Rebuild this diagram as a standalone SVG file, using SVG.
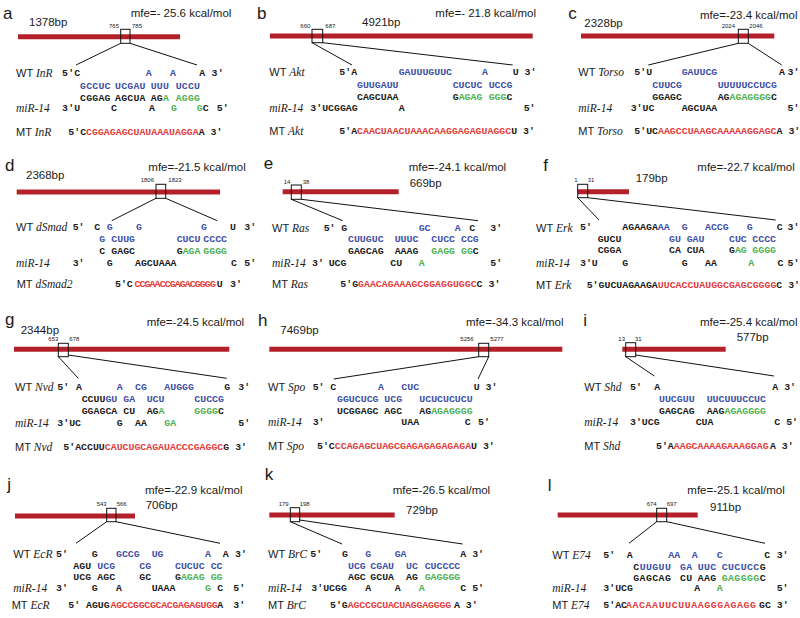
<svg xmlns="http://www.w3.org/2000/svg" width="800" height="618" viewBox="0 0 800 618">
<style>
.s{font-family:"Liberation Mono","Courier New",monospace;font-weight:bold;font-size:9.9px;fill:#1a1a1a}
.b{fill:#3d4fa6}.g{fill:#4cb050}.r{fill:#e23b3b}
.lab{font-family:"Liberation Sans",Arial,sans-serif;font-size:11px;fill:#1a1a1a}
.it{font-family:"Liberation Serif","Times New Roman",serif;font-style:italic;font-size:11.5px}
.mfe{font-family:"Liberation Sans",Arial,sans-serif;font-size:11.5px;fill:#1a1a1a}
.pos{font-family:"Liberation Sans",Arial,sans-serif;font-size:6px;fill:#1a1a1a}
.let{font-family:"Liberation Sans",Arial,sans-serif;font-size:17px;fill:#1a1a1a}
.bar{stroke:#b3202a;stroke-width:5}
.box{fill:none;stroke:#111;stroke-width:1}
.ln{stroke:#111;stroke-width:1}
</style>
<rect width="800" height="618" fill="#fff"/>
<g id="connectors">
<line class="ln" x1="120.7" y1="43.3" x2="76" y2="65"/><line class="ln" x1="130" y1="43.3" x2="197" y2="65"/>
<line class="ln" x1="312" y1="42.7" x2="352" y2="65"/><line class="ln" x1="322.7" y1="42.7" x2="512.7" y2="65"/>
<line class="ln" x1="738.3" y1="43.3" x2="648.3" y2="65"/><line class="ln" x1="748.3" y1="43.3" x2="781.7" y2="65"/>
<line class="ln" x1="156" y1="198.3" x2="111.7" y2="220.7"/><line class="ln" x1="165.7" y1="198.3" x2="217.3" y2="220.7"/>
<line class="ln" x1="291.3" y1="199.3" x2="342.7" y2="220.7"/><line class="ln" x1="301.3" y1="199.3" x2="478" y2="220.7"/>
<line class="ln" x1="577.7" y1="197.7" x2="599" y2="220"/><line class="ln" x1="587.7" y1="197.7" x2="775.7" y2="220"/>
<line class="ln" x1="58.3" y1="356.7" x2="78.3" y2="378.3"/><line class="ln" x1="68.3" y1="355" x2="226.7" y2="378.3"/>
<line class="ln" x1="478.7" y1="356.7" x2="333.7" y2="379"/><line class="ln" x1="488.7" y1="356.7" x2="478" y2="379"/>
<line class="ln" x1="625.7" y1="356.7" x2="654.3" y2="376"/><line class="ln" x1="635.7" y1="355" x2="774" y2="376"/>
<line class="ln" x1="106.7" y1="521.7" x2="76" y2="543.3"/><line class="ln" x1="116" y1="521.7" x2="220" y2="543.3"/>
<line class="ln" x1="290.3" y1="521.7" x2="342" y2="544"/><line class="ln" x1="299.7" y1="520" x2="462.7" y2="544"/>
<line class="ln" x1="656.7" y1="521.7" x2="629" y2="543.3"/><line class="ln" x1="666.7" y1="521.7" x2="765" y2="543.3"/>
</g>

<g id="panel-a">
<text class="let" x="3" y="18.5">a</text>
<text class="mfe" x="29" y="25.7">1378bp</text>
<text class="mfe" x="130.7" y="17.3">mfe=- 25.6 kcal/mol</text>
<line class="bar" x1="18" y1="36.7" x2="180" y2="36.7"/>
<rect class="box" x="120.7" y="29.3" width="9.3" height="14"/>
<text class="pos" x="109" y="28">765</text><text class="pos" x="132" y="28">785</text>
<text class="lab" x="16" y="77.3">WT <tspan class="it">InR</tspan></text>
<text class="lab" x="16" y="112.3"><tspan class="it">miR-14</tspan></text>
<text class="lab" x="16" y="135.7">MT <tspan class="it">InR</tspan></text>
<text class="s" y="76.3" letter-spacing="0.2"><tspan x="62">5'C</tspan><tspan x="145.7" class="b">A</tspan><tspan x="170" class="b">A</tspan><tspan x="199.3">A 3'</tspan></text>
<text class="s b" y="89" letter-spacing="0.2"><tspan x="80">GCCUC</tspan><tspan x="115">UCGAU</tspan><tspan x="150.7">UUU</tspan><tspan x="175.7">UCCU</tspan></text>
<text class="s" y="101.3" letter-spacing="0.2"><tspan x="80">CGGAG</tspan><tspan x="115">AGCUA</tspan><tspan x="150.7">AG</tspan><tspan class="g">A</tspan><tspan x="175.7" class="g">AGGG</tspan></text>
<text class="s" y="111.3" letter-spacing="0.2"><tspan x="62">3'U</tspan><tspan x="111">C</tspan><tspan x="149">A</tspan><tspan x="171" class="g">G</tspan><tspan x="196.7" class="g">G</tspan><tspan>C</tspan><tspan x="216.7">5'</tspan></text>
<text class="s" y="134.7"><tspan x="68.3">5'C</tspan><tspan class="r">CGGAGAGCUAUAAAUAGGA</tspan><tspan>A 3'</tspan></text>
</g>

<g id="panel-b">
<text class="let" x="257" y="18.5">b</text>
<text class="mfe" x="362" y="25.7">4921bp</text>
<text class="mfe" x="435.3" y="17.3">mfe=- 21.8 kcal/mol</text>
<line class="bar" x1="270" y1="36" x2="532.7" y2="36"/>
<rect class="box" x="312" y="29.3" width="10.7" height="13.4"/>
<text class="pos" x="300.3" y="28">660</text><text class="pos" x="325.3" y="28">687</text>
<text class="lab" x="269.3" y="76.3">WT <tspan class="it">Akt</tspan></text>
<text class="lab" x="269.3" y="112.3"><tspan class="it">miR-14</tspan></text>
<text class="lab" x="269.3" y="134.7">MT <tspan class="it">Akt</tspan></text>
<text class="s" y="75.3"><tspan x="339.3">5'A</tspan><tspan x="398.7" class="b">GAUUUGUUC</tspan><tspan x="482" class="b">A</tspan><tspan x="512.7">U 3'</tspan></text>
<text class="s b" y="88"><tspan x="357">GUUGAUU</tspan><tspan x="452.7">CUCUC</tspan><tspan x="488.7">UCCG</tspan></text>
<text class="s" y="100.3"><tspan x="357">CAGCUAA</tspan><tspan x="452.7">G</tspan><tspan class="g">AGAG</tspan><tspan x="488.7" class="g">GGG</tspan><tspan>C</tspan></text>
<text class="s" y="111.3"><tspan x="310.3">3'UCGGAG</tspan><tspan x="398.7">A</tspan><tspan x="523.7">5'</tspan></text>
<text class="s" y="133.7"><tspan x="339.3">5'A</tspan><tspan class="r">CAACUAACUAAACAAGGAGAGUAGGC</tspan><tspan>U 3'</tspan></text>
</g>

<g id="panel-c">
<text class="let" x="568.3" y="18.5">c</text>
<text class="mfe" x="584.3" y="26.7">2328bp</text>
<text class="mfe" x="700" y="19">mfe=-23.4 kcal/mol</text>
<line class="bar" x1="581" y1="36" x2="774.3" y2="36"/>
<rect class="box" x="738.3" y="29.3" width="10" height="14"/>
<text class="pos" x="721.7" y="28">2024</text><text class="pos" x="749.3" y="28">2046</text>
<text class="lab" x="578.3" y="76.3">WT <tspan class="it">Torso</tspan></text>
<text class="lab" x="578.3" y="112.3"><tspan class="it">miR-14</tspan></text>
<text class="lab" x="578.3" y="134.7">MT <tspan class="it">Torso</tspan></text>
<text class="s" y="75.3"><tspan x="634.3">5'U</tspan><tspan x="681.7" class="b">GAUUCG</tspan><tspan x="779">A</tspan><tspan x="787.5">3'</tspan></text>
<text class="s b" y="88"><tspan x="652.3">CUUCG</tspan><tspan x="717.7">UUUUUCCUCG</tspan></text>
<text class="s" y="100.3"><tspan x="652.3">GGAGC</tspan><tspan x="717.7">AG</tspan><tspan class="g">AGAGGGG</tspan><tspan>C</tspan></text>
<text class="s" y="111.3"><tspan x="630.7">3'UC</tspan><tspan x="681.7">AGCUAA</tspan><tspan x="787.5">5'</tspan></text>
<text class="s" y="133.7"><tspan x="634.3">5'UC</tspan><tspan class="r">AAGCCUAAGCAAAAAGGAGC</tspan><tspan>A 3'</tspan></text>
</g>

<g id="panel-d">
<text class="let" x="5" y="170.5">d</text>
<text class="mfe" x="26" y="179">2368bp</text>
<text class="mfe" x="148.3" y="170.7">mfe=-21.5 kcal/mol</text>
<line class="bar" x1="16.7" y1="192" x2="220" y2="192"/>
<rect class="box" x="156" y="184.3" width="9.7" height="14"/>
<text class="pos" x="140.7" y="181.5">1806</text><text class="pos" x="168.3" y="181.5">1823</text>
<text class="lab" x="16" y="231.3">WT <tspan class="it">dSmad</tspan></text>
<text class="lab" x="16" y="266.7"><tspan class="it">miR-14</tspan></text>
<text class="lab" x="16.7" y="288">MT <tspan class="it">dSmad2</tspan></text>
<text class="s" y="230.3"><tspan x="72.7">5'</tspan><tspan x="94.3">C</tspan><tspan x="106.7" class="b">G</tspan><tspan x="136" class="b">G</tspan><tspan x="201" class="b">G</tspan><tspan x="230">U</tspan><tspan x="244.3">3'</tspan></text>
<text class="s b" y="242.3"><tspan x="99.3">G</tspan><tspan x="111.3">CUUG</tspan><tspan x="176.7">CUCU</tspan><tspan x="203.3">CCCC</tspan></text>
<text class="s" y="253.7"><tspan x="99.3">C</tspan><tspan x="111.3">GAGC</tspan><tspan x="176.7">G</tspan><tspan class="g">AGA</tspan><tspan x="203.3" class="g">GGGG</tspan></text>
<text class="s" y="265.7"><tspan x="72.7">3'</tspan><tspan x="106.7">G</tspan><tspan x="135">AGCUAAA</tspan><tspan x="231">C</tspan><tspan x="244.3">5'</tspan></text>
<text class="s" y="287"><tspan x="115">5'C</tspan><tspan x="134.5" class="r" letter-spacing="-0.9">CCGAACCGAGACGGGG</tspan><tspan x="216.7">U</tspan><tspan x="230">3'</tspan></text>
</g>

<g id="panel-e">
<text class="let" x="263.7" y="169">e</text>
<text class="mfe" x="408.7" y="170.7">mfe=-24.1 kcal/mol</text>
<text class="mfe" x="409.7" y="186.7">669bp</text>
<line class="bar" x1="282.7" y1="191.7" x2="398.7" y2="191.7"/>
<rect class="box" x="291.3" y="185" width="10" height="14.3"/>
<text class="pos" x="283.7" y="184">14</text><text class="pos" x="302.7" y="184">38</text>
<text class="lab" x="272" y="232.3">WT <tspan class="it">Ras</tspan></text>
<text class="lab" x="272" y="266.7"><tspan class="it">miR-14</tspan></text>
<text class="lab" x="272" y="288">MT <tspan class="it">Ras</tspan></text>
<text class="s" y="231.3"><tspan x="323.7">5'</tspan><tspan x="341.3">G</tspan><tspan x="418.7" class="b">GC</tspan><tspan x="454.7" class="b">A</tspan><tspan x="469.3">C</tspan><tspan x="490.3">3'</tspan></text>
<text class="s b" y="242.3"><tspan x="348">CUUGUC</tspan><tspan x="394.7">UUUC</tspan><tspan x="431.3">CUCC</tspan><tspan x="461">CCG</tspan></text>
<text class="s" y="253.7"><tspan x="348">GAGCAG</tspan><tspan x="394.7">AAAG</tspan><tspan x="431.3" class="g">GAGG</tspan><tspan x="461" class="g">GG</tspan><tspan>C</tspan></text>
<text class="s" y="265.7"><tspan x="312">3'</tspan><tspan x="328.7">UCG</tspan><tspan x="390.3">CU</tspan><tspan x="418.7" class="g">A</tspan><tspan x="490.3">5'</tspan></text>
<text class="s" y="287"><tspan x="340.3">5'G</tspan><tspan class="r">GAACAGAAAGCGGAGGUGGC</tspan><tspan>C 3'</tspan></text>
</g>

<g id="panel-f">
<text class="let" x="543.3" y="170.5">f</text>
<text class="mfe" x="697.3" y="170.7">mfe=-22.7 kcal/mol</text>
<text class="mfe" x="635.7" y="182.3">179bp</text>
<line class="bar" x1="577.7" y1="191.7" x2="629" y2="191.7"/>
<rect class="box" x="577.7" y="184.3" width="10" height="13.4"/>
<text class="pos" x="574.3" y="181.5">1</text><text class="pos" x="587.7" y="181.5">31</text>
<text class="lab" x="536" y="232.3">WT <tspan class="it">Erk</tspan></text>
<text class="lab" x="536" y="266.7"><tspan class="it">miR-14</tspan></text>
<text class="lab" x="536" y="289">MT <tspan class="it">Erk</tspan></text>
<text class="s" y="230.3"><tspan x="580">5'</tspan><tspan x="622.3">AGAAGA</tspan><tspan class="b">AA</tspan><tspan x="681.7" class="b">G</tspan><tspan x="705" class="b">ACCG</tspan><tspan x="746.7" class="b">G</tspan><tspan x="776.7">C</tspan><tspan x="787.5">3'</tspan></text>
<text class="s" y="242.3"><tspan x="597.7">GUCU</tspan><tspan x="669" class="b">GU</tspan><tspan x="686.7" class="b">GAU</tspan><tspan x="729" class="b">CUC</tspan><tspan x="752.3" class="b">CCCC</tspan></text>
<text class="s" y="253.3"><tspan x="597.7">CGGA</tspan><tspan x="669">CA</tspan><tspan x="686.7">CUA</tspan><tspan x="729">G</tspan><tspan class="g">AG</tspan><tspan x="752.3" class="g">GGGG</tspan></text>
<text class="s" y="265.7"><tspan x="580">3'U</tspan><tspan x="622.3">G</tspan><tspan x="681.7">G</tspan><tspan x="705">AA</tspan><tspan x="748.3" class="g">A</tspan><tspan x="777.5">C</tspan><tspan x="787.5">5'</tspan></text>
<text class="s" y="288"><tspan x="586.7">5'GUCUAGAAGA</tspan><tspan class="r">UUCACCUAUGGCGAGCGGGG</tspan><tspan>C 3'</tspan></text>
</g>

<g id="panel-g">
<text class="let" x="5" y="325">g</text>
<text class="mfe" x="20.7" y="334">2344bp</text>
<text class="mfe" x="146.7" y="325.7">mfe=-24.5 kcal/mol</text>
<line class="bar" x1="14" y1="349.3" x2="229.3" y2="349.3"/>
<rect class="box" x="58.3" y="343.3" width="10" height="13.4"/>
<text class="pos" x="48.3" y="340.5">653</text><text class="pos" x="69.3" y="340.5">678</text>
<text class="lab" x="15" y="390.7">WT <tspan class="it">Nvd</tspan></text>
<text class="lab" x="15" y="427.3"><tspan class="it">miR-14</tspan></text>
<text class="lab" x="15" y="450.7">MT <tspan class="it">Nvd</tspan></text>
<text class="s" y="389.7"><tspan x="57.3">5'</tspan><tspan x="76">A</tspan><tspan x="116.7" class="b">A</tspan><tspan x="135" class="b">CG</tspan><tspan x="164.3" class="b">AUGGG</tspan><tspan x="224.3">G</tspan><tspan x="238.3">3'</tspan></text>
<text class="s" y="402"><tspan x="81.7">CCUU</tspan><tspan class="b">GU</tspan><tspan x="123.3" class="b">GA</tspan><tspan x="146.7" class="b">UCU</tspan><tspan x="194.3" class="b">CUCCG</tspan></text>
<text class="s" y="414"><tspan x="81.7">GGAGCA</tspan><tspan x="123.3">CU</tspan><tspan x="146.7">AG</tspan><tspan class="g">A</tspan><tspan x="194.3" class="g">GGGG</tspan><tspan>C</tspan></text>
<text class="s" y="426.3"><tspan x="57.3">3'UC</tspan><tspan x="116.7">G</tspan><tspan x="135">AA</tspan><tspan x="164.3" class="g">GA</tspan><tspan x="238.3">5'</tspan></text>
<text class="s" y="449.7"><tspan x="63.3">5'ACCUU</tspan><tspan class="r">CAUCUGCAGAUACCCGAGGC</tspan><tspan>G 3'</tspan></text>
</g>

<g id="panel-h">
<text class="let" x="258" y="326">h</text>
<text class="mfe" x="280.3" y="334">7469bp</text>
<text class="mfe" x="466" y="325.7">mfe=-34.3 kcal/mol</text>
<line class="bar" x1="269.3" y1="349.3" x2="562.3" y2="349.3"/>
<rect class="box" x="478.7" y="343.3" width="10" height="13.4"/>
<text class="pos" x="460.3" y="340.5">5256</text><text class="pos" x="490.3" y="340.5">5277</text>
<text class="lab" x="268" y="390.7">WT <tspan class="it">Spo</tspan></text>
<text class="lab" x="268" y="426.3"><tspan class="it">miR-14</tspan></text>
<text class="lab" x="268" y="449.7">MT <tspan class="it">Spo</tspan></text>
<text class="s" y="389.7"><tspan x="312.7">5'</tspan><tspan x="330.3">C</tspan><tspan x="378" class="b">A</tspan><tspan x="401.3" class="b">CUC</tspan><tspan x="473.7">U 3'</tspan></text>
<text class="s b" y="402"><tspan x="337">GGUCUCG</tspan><tspan x="384.3">UCG</tspan><tspan x="419.3">UCUCUCUCU</tspan></text>
<text class="s" y="414"><tspan x="337">UCGGAGC</tspan><tspan x="384.3">AGC</tspan><tspan x="419.3">AG</tspan><tspan class="g">AGAGGGG</tspan></text>
<text class="s" y="425.3"><tspan x="312.7">3'</tspan><tspan x="401.3">UAA</tspan><tspan x="464.7">C</tspan><tspan x="478">5'</tspan></text>
<text class="s" y="448.7"><tspan x="317">5'C</tspan><tspan class="r">CCAGAGCUAGCGAGAGAGAGAGA</tspan><tspan>U 3'</tspan></text>
</g>

<g id="panel-i">
<text class="let" x="583.3" y="326">i</text>
<text class="mfe" x="700" y="325.7">mfe=-25.4 kcal/mol</text>
<text class="mfe" x="736.7" y="340.7">577bp</text>
<line class="bar" x1="622.3" y1="349.3" x2="725.7" y2="349.3"/>
<rect class="box" x="625.7" y="342.7" width="10" height="14"/>
<text class="pos" x="618.3" y="340.5">13</text><text class="pos" x="635" y="340.5">31</text>
<text class="lab" x="584.3" y="390.7">WT <tspan class="it">Shd</tspan></text>
<text class="lab" x="584.3" y="426.3"><tspan class="it">miR-14</tspan></text>
<text class="lab" x="584.3" y="449.7">MT <tspan class="it">Shd</tspan></text>
<text class="s" y="389.7"><tspan x="630">5'</tspan><tspan x="654.3">A</tspan><tspan x="772.3">A 3'</tspan></text>
<text class="s b" y="402"><tspan x="659">UUCGUU</tspan><tspan x="706.7">UUCUUUCCUC</tspan></text>
<text class="s" y="414"><tspan x="659">GAGCAG</tspan><tspan x="706.7">AAG</tspan><tspan class="g">AGAGGGG</tspan></text>
<text class="s" y="425.3"><tspan x="630">3'UCG</tspan><tspan x="695.7">CUA</tspan><tspan x="774.3">C 5'</tspan></text>
<text class="s" y="448.7"><tspan x="656">5'A</tspan><tspan class="r">AAGCAAAAGAAAGGAG</tspan><tspan x="770">A 3'</tspan></text>
</g>

<g id="panel-j">
<text class="let" x="7.3" y="490">j</text>
<text class="mfe" x="145" y="494">mfe=-22.9 kcal/mol</text>
<text class="mfe" x="145.7" y="509">706bp</text>
<line class="bar" x1="15" y1="516" x2="135" y2="516"/>
<rect class="box" x="106.7" y="508.3" width="9.3" height="13.4"/>
<text class="pos" x="96.7" y="505.5">543</text><text class="pos" x="116.7" y="505.5">566</text>
<text class="lab" x="13.3" y="558">WT <tspan class="it">EcR</tspan></text>
<text class="lab" x="13.3" y="592.3"><tspan class="it">miR-14</tspan></text>
<text class="lab" x="11.7" y="609">MT <tspan class="it">EcR</tspan></text>
<text class="s" y="557"><tspan x="56">5'</tspan><tspan x="91.7">G</tspan><tspan x="116" class="b">GCCG</tspan><tspan x="151.7" class="b">UG</tspan><tspan x="205" class="b">A</tspan><tspan x="222.7">A</tspan><tspan x="235">3'</tspan></text>
<text class="s" y="569"><tspan x="73.3">AGU</tspan><tspan x="97.3" class="b">UCG</tspan><tspan x="139.3" class="b">CG</tspan><tspan x="175" class="b">CUCUC</tspan><tspan x="210.7" class="b">CC</tspan></text>
<text class="s" y="580.3"><tspan x="73.3">UCG</tspan><tspan x="97.3">AGC</tspan><tspan x="139.3">GC</tspan><tspan x="175">G</tspan><tspan class="g">AGAG</tspan><tspan x="210.7" class="g">GG</tspan></text>
<text class="s" y="591.3"><tspan x="56">3'</tspan><tspan x="91.7">G</tspan><tspan x="116">A</tspan><tspan x="151.7">UAAA</tspan><tspan x="205" class="g">G</tspan><tspan x="217.3">C</tspan><tspan x="233.3">5'</tspan></text>
<text class="s" y="608"><tspan x="68.3">5'</tspan><tspan x="86">AGUG</tspan><tspan x="110.5" class="r" letter-spacing="-0.3">AGCCGGCGCACGAGAGUGG</tspan><tspan x="217.3">A</tspan><tspan x="233.3">3'</tspan></text>
</g>

<g id="panel-k">
<text class="let" x="264.7" y="480">k</text>
<text class="mfe" x="392.7" y="494">mfe=-26.5 kcal/mol</text>
<text class="mfe" x="406" y="514">729bp</text>
<line class="bar" x1="269.3" y1="515" x2="394.7" y2="515"/>
<rect class="box" x="290.3" y="507.7" width="9.4" height="14"/>
<text class="pos" x="278.7" y="505.5">179</text><text class="pos" x="299.7" y="505.5">198</text>
<text class="lab" x="268" y="558">WT <tspan class="it">BrC</tspan></text>
<text class="lab" x="268" y="592.3"><tspan class="it">miR-14</tspan></text>
<text class="lab" x="268" y="609">MT <tspan class="it">BrC</tspan></text>
<text class="s" y="557"><tspan x="310.3">5'</tspan><tspan x="342">G</tspan><tspan x="365.3" class="b">G</tspan><tspan x="394.7" class="b">GA</tspan><tspan x="460.3">A 3'</tspan></text>
<text class="s b" y="569"><tspan x="348">UCG</tspan><tspan x="370.3">CGAU</tspan><tspan x="406">UC</tspan><tspan x="424.7">CUCCCC</tspan></text>
<text class="s" y="580.3"><tspan x="348">AGC</tspan><tspan x="370.3">GCUA</tspan><tspan x="406">AG</tspan><tspan x="424.7" class="g">GAGGGG</tspan></text>
<text class="s" y="591.3"><tspan x="311.3">3'UCGG</tspan><tspan x="365.3">A</tspan><tspan x="394.7">A</tspan><tspan x="418.7" class="g">A</tspan><tspan x="460.3">C 5'</tspan></text>
<text class="s" y="608"><tspan x="330">5'G</tspan><tspan x="347.8" class="r" letter-spacing="-0.2">AGCCGCUACUAGGAGGGG</tspan><tspan x="454">A 3'</tspan></text>
</g>

<g id="panel-l">
<text class="let" x="547.7" y="491">l</text>
<text class="mfe" x="687.3" y="494">mfe=-25.1 kcal/mol</text>
<text class="mfe" x="710" y="511.3">911bp</text>
<line class="bar" x1="557.7" y1="515" x2="697.7" y2="515"/>
<rect class="box" x="656.7" y="508.3" width="10" height="13.4"/>
<text class="pos" x="646.7" y="505.5">674</text><text class="pos" x="666.7" y="505.5">697</text>
<text class="lab" x="552.3" y="559">WT <tspan class="it">E74</tspan></text>
<text class="lab" x="552.3" y="592.3"><tspan class="it">miR-14</tspan></text>
<text class="lab" x="552.3" y="609">MT <tspan class="it">E74</tspan></text>
<text class="s" y="558"><tspan x="603.3">5'</tspan><tspan x="626.7">A</tspan><tspan x="668.3" class="b">AA</tspan><tspan x="691.7" class="b">A</tspan><tspan x="716.7" class="b">C</tspan><tspan x="764.3">C</tspan><tspan x="776.7">3'</tspan></text>
<text class="s" y="569.7" letter-spacing="0.4"><tspan x="633.3">C</tspan><tspan class="b">UUGUU</tspan><tspan x="680" class="b">GA</tspan><tspan x="697.7" class="b">UUC</tspan><tspan x="721.7" class="b">CUCUCC</tspan><tspan>G</tspan></text>
<text class="s" y="580.7" letter-spacing="0.4"><tspan x="633.3">GAGCAG</tspan><tspan x="680">CU</tspan><tspan x="697.7">AAG</tspan><tspan x="721.7" class="g">GAGGGG</tspan><tspan>C</tspan></text>
<text class="s" y="591.3"><tspan x="603.3">3'UCG</tspan><tspan x="694.3">A</tspan><tspan x="716.7" class="g">A</tspan><tspan x="776.7">5'</tspan></text>
<text class="s" y="608"><tspan x="603.3">5'AC</tspan><tspan x="626" class="r" letter-spacing="0.6">AACAAUUCUUAAGGGAGAGG</tspan><tspan x="759">GC 3'</tspan></text>
</g>
</svg>
